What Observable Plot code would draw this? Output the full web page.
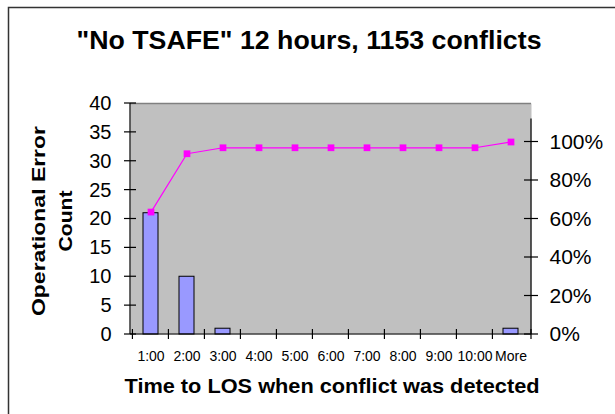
<!DOCTYPE html>
<html>
<head>
<meta charset="utf-8">
<script src="https://cdn.jsdelivr.net/npm/d3@7"></script>
<script src="https://cdn.jsdelivr.net/npm/@observablehq/plot@0.6"></script>
<style>
  body { margin: 0; background: #fff; overflow: hidden; }
  #chart { position: relative; width: 615px; height: 414px; }
</style>
</head>
<body>
<div id="chart"></div>
<script>
// ---- data ----
const categories = ["1:00", "2:00", "3:00", "4:00", "5:00", "6:00", "7:00", "8:00", "9:00", "10:00", "More"];
const counts = [21, 10, 1, 0, 0, 0, 0, 0, 0, 0, 1];
const cumulativePct = [63.6, 93.9, 97.0, 97.0, 97.0, 97.0, 97.0, 97.0, 97.0, 97.0, 100];
const countTicks = [0, 5, 10, 15, 20, 25, 30, 35, 40];
const pctTicks = [0, 20, 40, 60, 80, 100];
const countMax = 40;
const pctMax = 120;
const rightAxisTopPct = 112;

const titleText = "\"No TSAFE\" 12 hours, 1153 conflicts";
const xTitle = "Time to LOS when conflict was detected";
const yTitleLines = ["Operational Error", "Count"];

const data = categories.map((c, i) => ({cat: c, count: counts[i], cum: cumulativePct[i]}));
const toLeft = p => p * countMax / pctMax;

const FONT = "Arial, 'Liberation Sans', sans-serif";
const padInner = 0.58, padOuter = 0.29;

function axisLines(index, scales, values, dims) {
  const left = dims.marginLeft, right = dims.width - dims.marginRight;
  const g = d3.create("svg:g").attr("stroke", "#000").attr("stroke-width", 1.2).attr("fill", "none");
  const y = scales.y, x = scales.x;
  // left axis
  g.append("line").attr("x1", left).attr("x2", left).attr("y1", y(countMax)).attr("y2", y(0));
  countTicks.forEach(v => g.append("line").attr("x1", left - 6).attr("x2", left + 6).attr("y1", y(v)).attr("y2", y(v)));
  // right axis
  g.append("line").attr("x1", right).attr("x2", right).attr("y1", y(toLeft(rightAxisTopPct))).attr("y2", y(0));
  pctTicks.forEach(p => g.append("line").attr("x1", right - 7).attr("x2", right + 7).attr("y1", y(toLeft(p))).attr("y2", y(toLeft(p))));
  // bottom axis
  g.append("line").attr("x1", left).attr("x2", right).attr("y1", y(0)).attr("y2", y(0));
  const step = (right - left) / categories.length;
  const bounds = categories.map(c => x(c) - step * padInner / 2).concat([right]);
  bounds.forEach(b => g.append("line").attr("x1", b).attr("x2", b).attr("y1", y(0) - 5).attr("y2", y(0) + 5));
  return g.node();
}

const svg = Plot.plot({
  width: 615,
  height: 414,
  marginLeft: 130,
  marginRight: 84,
  marginTop: 103,
  marginBottom: 80,
  style: {background: "transparent", fontFamily: FONT, color: "#000"},
  x: {domain: categories, paddingInner: padInner, paddingOuter: padOuter, axis: null},
  y: {domain: [0, countMax], axis: null},
  marks: [
    Plot.frame({fill: "#C0C0C0", stroke: null}),
    Plot.ruleY([countMax], {stroke: "#808080", strokeWidth: 1.5}),
    Plot.barY(data, {x: "cat", y: "count", fill: "#9999FF", stroke: "#000", strokeWidth: 1}),
    Plot.line(data, {x: "cat", y: d => toLeft(d.cum), stroke: "#FF00FF", strokeWidth: 1.2}),
    Plot.dot(data, {x: "cat", y: d => toLeft(d.cum), symbol: "square", r: 3.8, fill: "#FF00FF", stroke: null}),
    axisLines,
    Plot.axisY({anchor: "left", label: null, ticks: countTicks, tickSize: 0, tickPadding: 19, fontSize: 20, tickFormat: d => String(d)}),
    Plot.axisY({anchor: "right", label: null, ticks: pctTicks.map(toLeft), tickSize: 0, tickPadding: 18, fontSize: 21,
      tickFormat: v => Math.round(v * pctMax / countMax) + "%"}),
    Plot.axisX({anchor: "bottom", label: null, tickSize: 0, tickPadding: 17, fontSize: 14})
  ]
});

const s = d3.select(svg);
// outer chart border
s.append("path").attr("d", "M8.5,414 V7.5 H615").attr("fill", "none").attr("stroke", "#333").attr("stroke-width", 1.5);
// title
s.append("text").attr("x", 309).attr("y", 49).attr("text-anchor", "middle")
  .attr("textLength", 465).attr("lengthAdjust", "spacingAndGlyphs")
  .attr("font-family", FONT).attr("font-weight", "bold").attr("font-size", 26).attr("fill", "#000").text(titleText);
// x title
s.append("text").attr("x", 332).attr("y", 393).attr("text-anchor", "middle")
  .attr("textLength", 415).attr("lengthAdjust", "spacingAndGlyphs")
  .attr("font-family", FONT).attr("font-weight", "bold").attr("font-size", 21).attr("fill", "#000").text(xTitle);
// y title
const yt = s.append("text").attr("transform", "translate(0,221) rotate(-90)").attr("text-anchor", "middle")
  .attr("font-family", FONT).attr("font-weight", "bold").attr("font-size", 19).attr("fill", "#000");
yt.append("tspan").attr("x", 0).attr("y", 45).attr("textLength", 190).attr("lengthAdjust", "spacingAndGlyphs").text(yTitleLines[0]);
yt.append("tspan").attr("x", 0).attr("y", 72).attr("textLength", 61).attr("lengthAdjust", "spacingAndGlyphs").text(yTitleLines[1]);

document.getElementById("chart").appendChild(svg);
</script>
</body>
</html>
